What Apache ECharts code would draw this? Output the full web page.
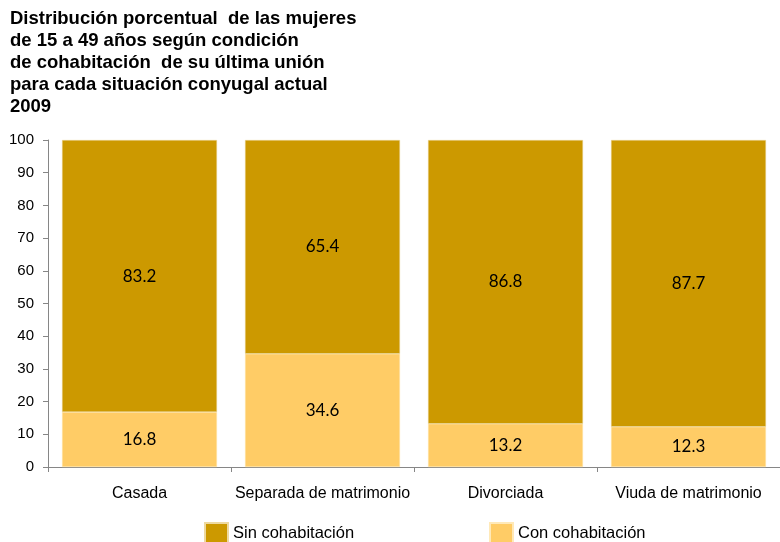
<!DOCTYPE html>
<html><head><meta charset="utf-8">
<script src="https://cdn.jsdelivr.net/npm/echarts@6/dist/echarts.min.js"></script>
<style>html,body{margin:0;padding:0;background:#fff}#c{width:780px;height:542px}</style>
</head><body><div id="c"></div>
<script>
const categories = ['Casada', 'Separada de matrimonio', 'Divorciada', 'Viuda de matrimonio'];
const sinCohabitacion = [83.2, 65.4, 86.8, 87.7];
const conCohabitacion = [16.8, 34.6, 13.2, 12.3];
const titleText = 'Distribución porcentual  de las mujeres\nde 15 a 49 años según condición\nde cohabitación  de su última unión\npara cada situación conyugal actual\n2009';

const chart = echarts.init(document.getElementById('c'));
const FONT = '"Liberation Sans", Arial, sans-serif';
const labelStyle = {show: true, position: 'inside', color: '#000', fontSize: 17, fontFamily: 'Lato, "Open Sans", sans-serif', formatter: p => p.value.toFixed(1)};
const legendText = {fontFamily: FONT, fontSize: 16.5, color: '#000'};
chart.setOption({
  animation: false,
  title: {text: titleText, left: 10, top: 8, padding: 0, textStyle: {fontFamily: FONT, fontWeight: 'bold', fontSize: 18.5, lineHeight: 22, color: '#000'}},
  legend: [
    {data: ['Sin cohabitación'], left: 204, top: 522, padding: 0, icon: 'rect', itemWidth: 23, itemHeight: 20, itemGap: 6, textStyle: legendText},
    {data: ['Con cohabitación'], left: 489, top: 522, padding: 0, icon: 'rect', itemWidth: 23, itemHeight: 20, itemGap: 5, textStyle: legendText}
  ],
  grid: {left: 48, top: 140, width: 743, height: 327, containLabel: false},
  xAxis: {type: 'category', data: categories,
    axisLine: {lineStyle: {color: '#868686'}},
    axisTick: {show: true, interval: 0, length: 5, lineStyle: {color: '#868686'}},
    axisLabel: {interval: 0, color: '#000', fontSize: 16, fontFamily: FONT, margin: 19}},
  yAxis: {type: 'value', min: 0, max: 100, interval: 10,
    axisLine: {show: true, lineStyle: {color: '#868686'}},
    axisTick: {show: true, length: 5, lineStyle: {color: '#868686'}},
    splitLine: {show: false},
    axisLabel: {color: '#000', fontSize: 15, fontFamily: FONT, margin: 14}},
  series: [
    {name: 'Con cohabitación', type: 'bar', stack: 't', data: conCohabitacion, barWidth: 155,
      itemStyle: {color: '#FFCC66', borderColor: '#FFE9B8', borderWidth: 0.5}, label: labelStyle},
    {name: 'Sin cohabitación', type: 'bar', stack: 't', data: sinCohabitacion, barWidth: 155,
      itemStyle: {color: '#CC9900', borderColor: '#EDD9A0', borderWidth: 0.5}, label: labelStyle}
  ]
});
</script></body></html>
